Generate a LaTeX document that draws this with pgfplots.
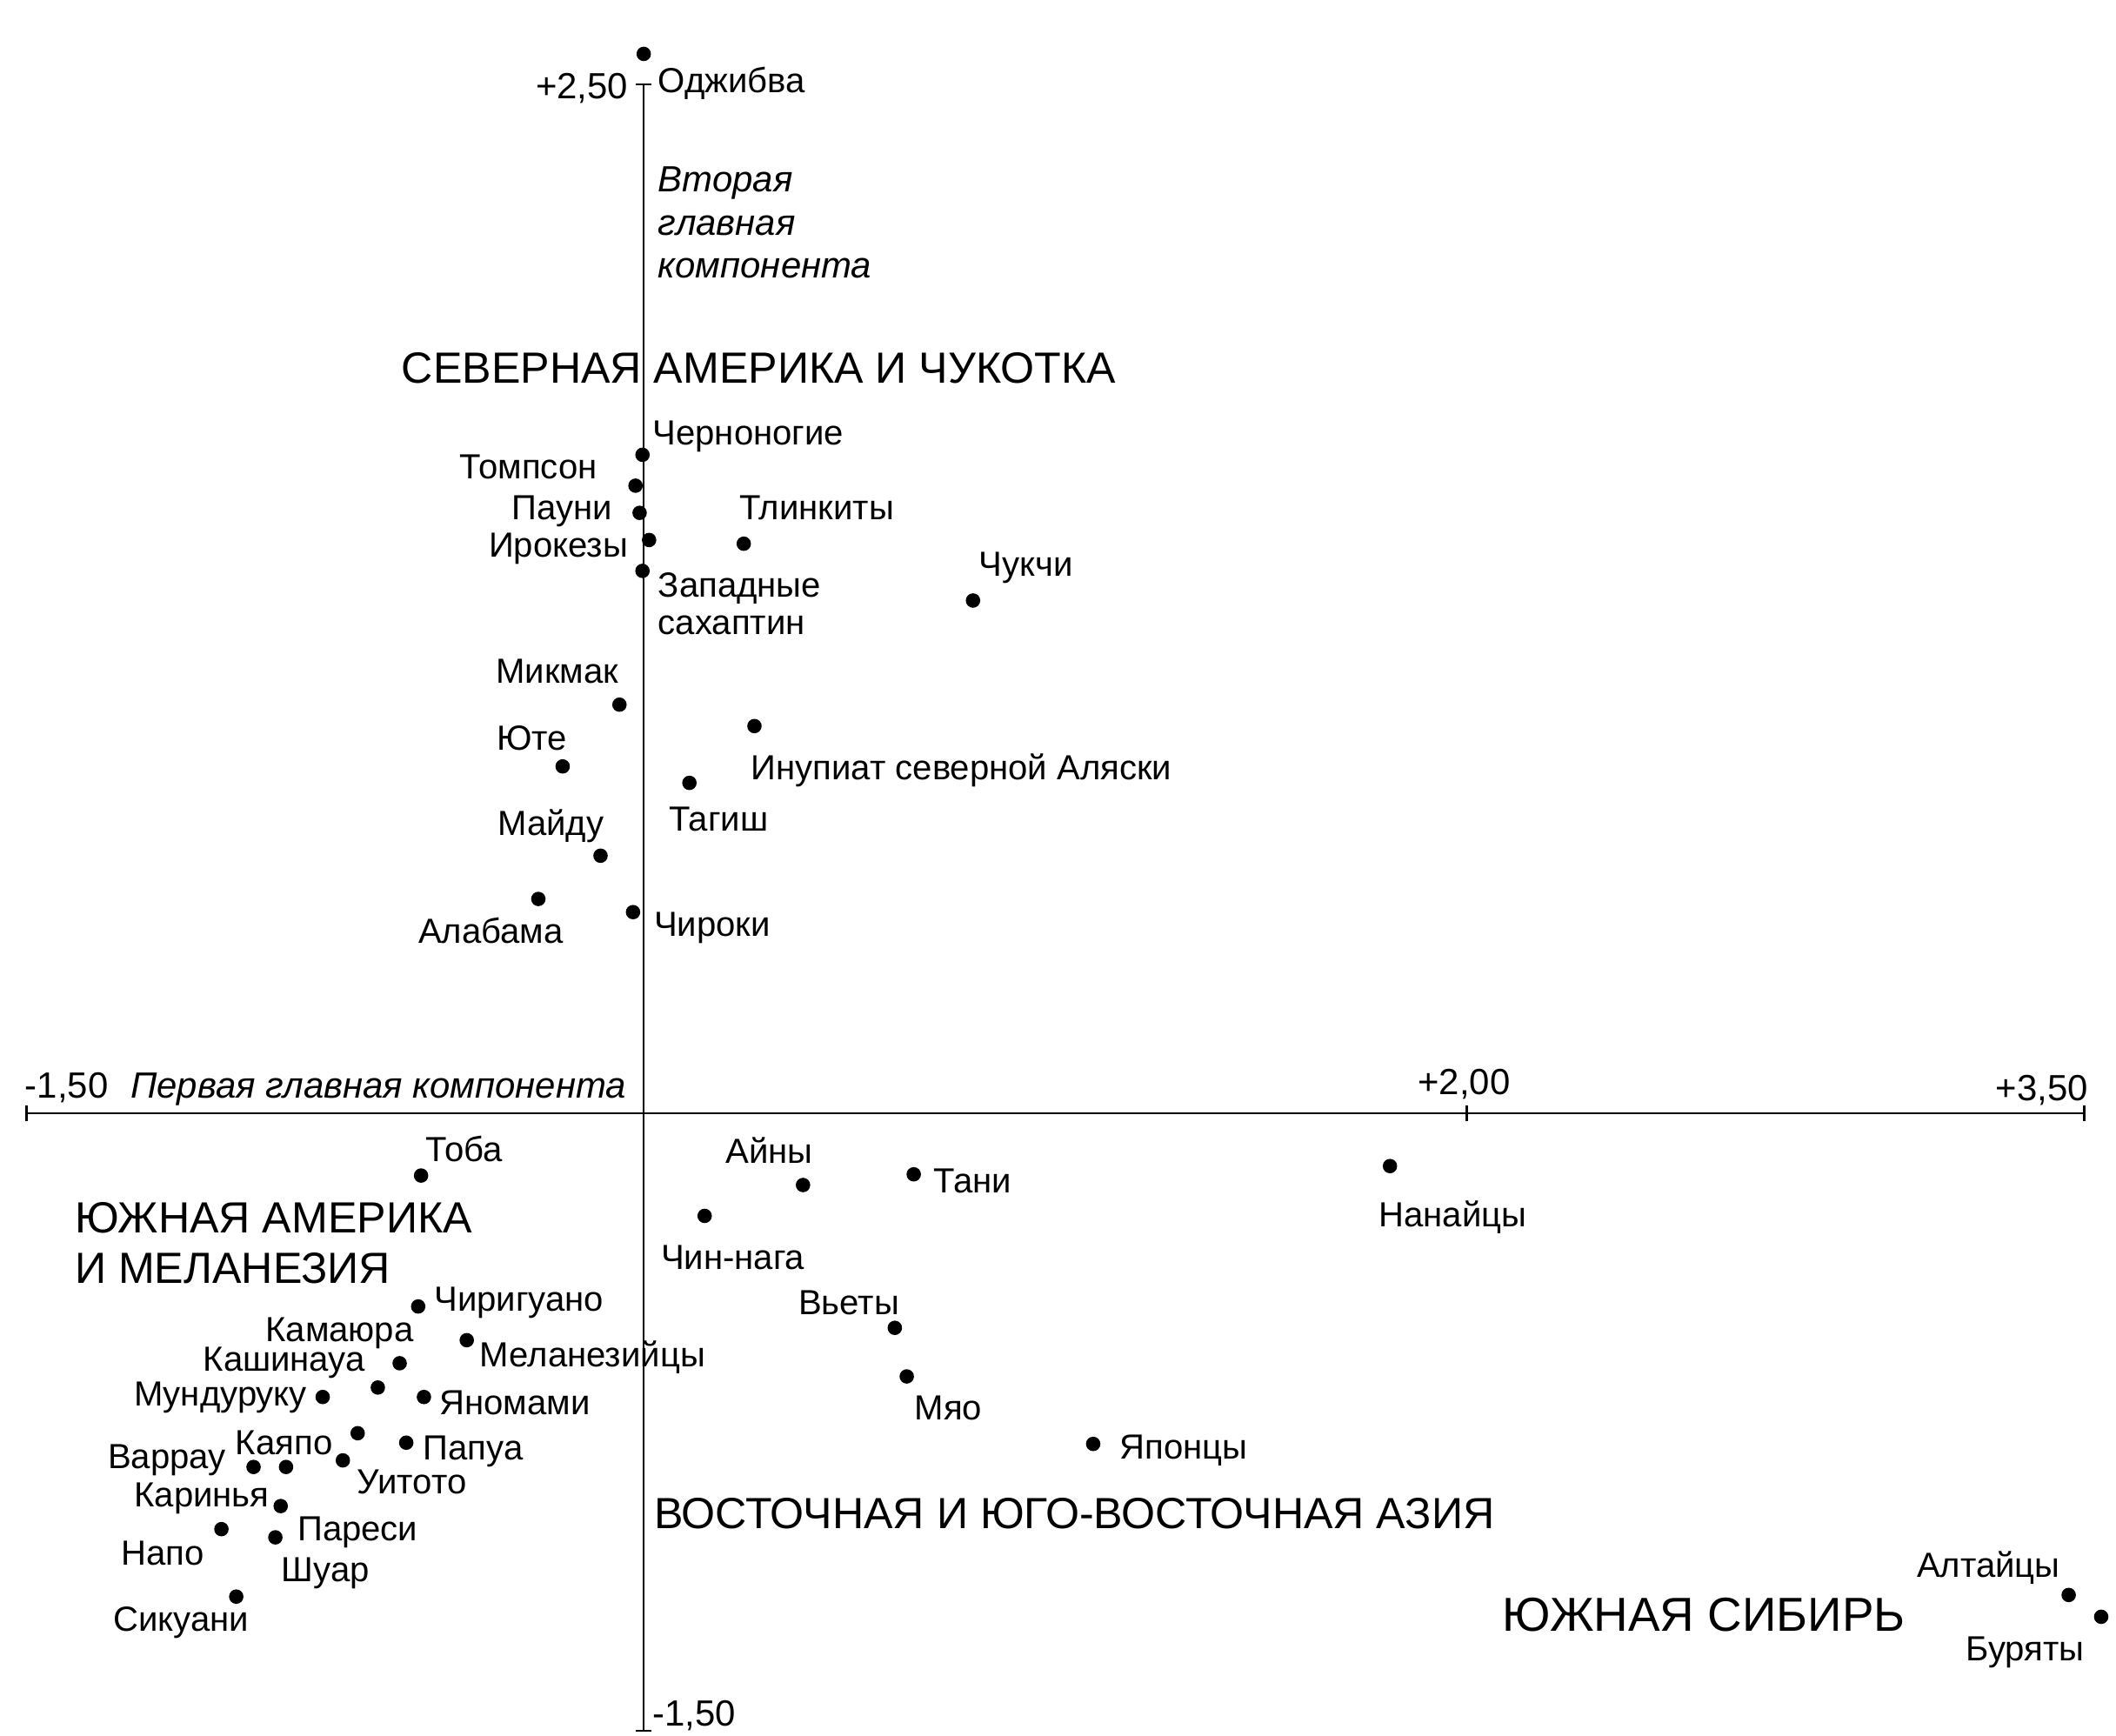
\documentclass[border=0pt]{standalone}
\usepackage{fontspec}
\setmainfont{Liberation Sans}
\usepackage{pgfplots}
\pgfplotsset{compat=1.18}
\usepackage{pgfplotstable}

\tikzset{
    tk/.style={font=\fontsize{8.1}{9.6}\selectfont, inner sep=0pt},
    lbl/.style={font=\fontsize{7.75}{9.6}\selectfont, inner sep=0pt},
    reg/.style={font=\fontsize{9.7}{11.4}\selectfont, inner sep=0pt},
}

% scores on the first two principal components
\pgfplotstableread{
x      y
 0.000  2.574
-0.003  1.600
-0.020  1.525
-0.010  1.459
 0.013  1.393
-0.003  1.318
 0.243  1.384
 0.800  1.246
-0.059  0.993
 0.269  0.941
-0.197  0.843
 0.111  0.803
-0.105  0.626
-0.256  0.521
-0.026  0.489
-0.541 -0.151
 0.387 -0.174
 0.656 -0.148
 1.813 -0.128
 0.148 -0.249
-0.548 -0.469
 0.610 -0.521
-0.430 -0.551
-0.593 -0.607
-0.646 -0.666
-0.534 -0.689
-0.780 -0.689
 0.639 -0.639
-0.695 -0.777
-0.577 -0.800
 1.092 -0.803
-0.731 -0.843
-0.948 -0.859
-0.869 -0.859
-0.882 -0.954
-1.026 -1.010
-0.895 -1.030
-0.990 -1.174
 3.462 -1.170
 3.541 -1.223
}\scores

\begin{document}
\begin{tikzpicture}
\begin{axis}[
    scale only axis, width=457.5pt, height=366pt,
    xmin=-1.5, xmax=3.5, ymin=-1.5, ymax=2.5,
    axis lines=middle, axis line style={-, line width=0.5pt},
    xtick={-1.5,2,3.5}, ytick={-1.5,2.5},
    xticklabels={,,}, yticklabels={,},
    major tick length=3.6pt, tick style={black, line width=0.5pt},
    clip=false,
]
\addplot[only marks, mark=*, mark size=1.4pt, black] table {\scores};

% tick labels and axis titles
\node[tk, anchor=mid west] at (axis cs:-1.505,0.066) {-1,50};
\node[tk, anchor=mid] at (axis cs:1.993,0.075) {+2,00};
\node[tk, anchor=mid east] at (axis cs:3.511,0.059) {+3,50};
\node[tk, anchor=mid east] at (axis cs:-0.036,2.495) {+2,50};
\node[tk, anchor=mid west] at (axis cs:0.020,-1.459) {-1,50};
\node[tk, anchor=mid west] at (axis cs:-1.249,0.066) {\itshape Первая главная компонента};
\node[tk, anchor=west, align=left] at (axis cs:0.033,2.164) {\itshape Вторая\\\itshape главная\\\itshape компонента};

% regions
\node[reg, anchor=mid west] at (axis cs:-0.590,1.803) {СЕВЕРНАЯ АМЕРИКА И ЧУКОТКА};
\node[reg, anchor=west, align=left] at (axis cs:-1.384,-0.315) {ЮЖНАЯ АМЕРИКА\\И МЕЛАНЕЗИЯ};
\node[reg, anchor=mid west] at (axis cs:0.023,-0.980) {ВОСТОЧНАЯ И ЮГО-ВОСТОЧНАЯ АЗИЯ};
\node[reg, anchor=mid west, font=\fontsize{10.6}{11.4}\selectfont] at (axis cs:2.085,-1.230) {ЮЖНАЯ СИБИРЬ};

% point names
\node[lbl, anchor=mid west] at (axis cs:0.033,2.508) {Оджибва};
\node[lbl, anchor=mid west] at (axis cs:0.020,1.652) {Черноногие};
\node[lbl, anchor=mid east] at (axis cs:-0.111,1.570) {Томпсон};
\node[lbl, anchor=mid east] at (axis cs:-0.075,1.472) {Пауни};
\node[lbl, anchor=mid west] at (axis cs:0.230,1.472) {Тлинкиты};
\node[lbl, anchor=mid east] at (axis cs:-0.036,1.380) {Ирокезы};
\node[lbl, anchor=west, align=left, font=\fontsize{7.75}{8.4}\selectfont] at (axis cs:0.033,1.238) {Западные\\сахаптин};
\node[lbl, anchor=mid west] at (axis cs:0.813,1.334) {Чукчи};
\node[lbl, anchor=mid east] at (axis cs:-0.059,1.075) {Микмак};
\node[lbl, anchor=mid east] at (axis cs:-0.184,0.911) {Юте};
\node[lbl, anchor=mid west] at (axis cs:0.259,0.839) {Инупиат северной Аляски};
\node[lbl, anchor=mid west] at (axis cs:0.059,0.715) {Тагиш};
\node[lbl, anchor=mid east] at (axis cs:-0.095,0.705) {Майду};
\node[lbl, anchor=mid east] at (axis cs:-0.193,0.443) {Алабама};
\node[lbl, anchor=mid west] at (axis cs:0.023,0.459) {Чироки};
\node[lbl, anchor=mid west] at (axis cs:-0.531,-0.089) {Тоба};
\node[lbl, anchor=mid east] at (axis cs:0.413,-0.092) {Айны};
\node[lbl, anchor=mid west] at (axis cs:0.702,-0.164) {Тани};
\node[lbl, anchor=mid west] at (axis cs:1.784,-0.246) {Нанайцы};
\node[lbl, anchor=mid east] at (axis cs:0.393,-0.351) {Чин-нага};
\node[lbl, anchor=mid west] at (axis cs:-0.511,-0.452) {Чиригуано};
\node[lbl, anchor=mid east] at (axis cs:0.623,-0.459) {Вьеты};
\node[lbl, anchor=mid east] at (axis cs:-0.557,-0.525) {Камаюра};
\node[lbl, anchor=mid west] at (axis cs:-0.400,-0.587) {Меланезийцы};
\node[lbl, anchor=mid east] at (axis cs:-0.675,-0.597) {Кашинауа};
\node[lbl, anchor=mid east] at (axis cs:-0.816,-0.682) {Мундуруку};
\node[lbl, anchor=mid west] at (axis cs:-0.498,-0.702) {Яномами};
\node[lbl, anchor=mid west] at (axis cs:0.656,-0.715) {Мяо};
\node[lbl, anchor=mid east] at (axis cs:-0.754,-0.800) {Каяпо};
\node[lbl, anchor=mid west] at (axis cs:-0.538,-0.813) {Папуа};
\node[lbl, anchor=mid west] at (axis cs:1.154,-0.810) {Японцы};
\node[lbl, anchor=mid east] at (axis cs:-1.013,-0.833) {Варрау};
\node[lbl, anchor=mid west] at (axis cs:-0.698,-0.895) {Уитото};
\node[lbl, anchor=mid east] at (axis cs:-0.908,-0.928) {Каринья};
\node[lbl, anchor=mid west] at (axis cs:-0.843,-1.010) {Пареси};
\node[lbl, anchor=mid east] at (axis cs:-1.066,-1.069) {Напо};
\node[lbl, anchor=mid west] at (axis cs:-0.882,-1.108) {Шуар};
\node[lbl, anchor=mid east] at (axis cs:-0.957,-1.230) {Сикуани};
\node[lbl, anchor=mid east] at (axis cs:3.443,-1.098) {Алтайцы};
\node[lbl, anchor=mid east] at (axis cs:3.502,-1.302) {Буряты};

\coordinate (bl) at (axis cs:-1.564,-1.511);
\coordinate (tr) at (axis cs:3.577,2.705);
\end{axis}
\pgfresetboundingbox
\path[use as bounding box] (bl) rectangle (tr);
\end{tikzpicture}
\end{document}
